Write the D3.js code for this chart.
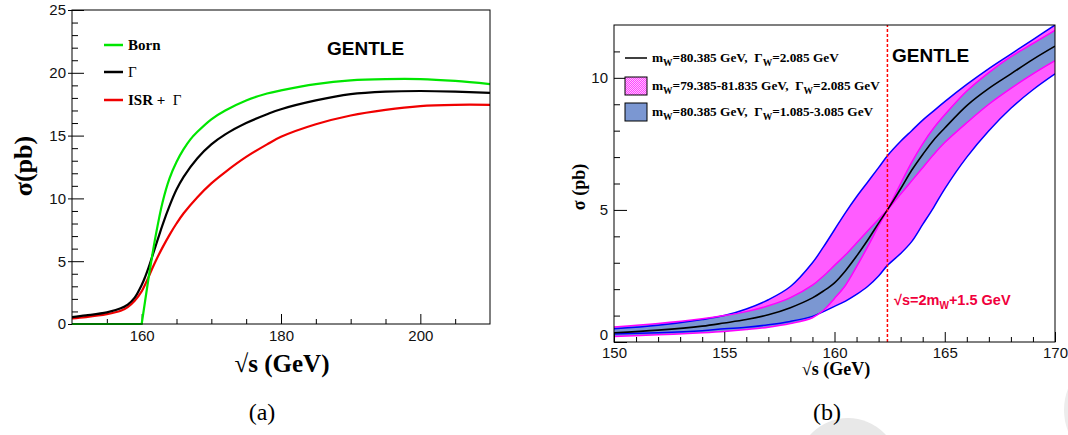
<!DOCTYPE html>
<html><head><meta charset="utf-8">
<script src="https://cdn.jsdelivr.net/npm/d3@7"></script>
<style>body{margin:0;background:#fff}svg{display:block}text{white-space:pre}</style>
</head><body>
<svg id="c" width="1068" height="435"></svg>
<script>
// ---------- Panel (a) data ----------
const bornX = [150,160,160.5,161,161.5,162,163,164,165,166,167,168,170,172,175,178,180,185,190,195,200,205,210];
const bornY = [0,0,1.85,3.7,5.4,7.0,9.7,11.6,12.9,13.9,14.7,15.3,16.3,17.0,17.8,18.35,18.6,19.1,19.4,19.5,19.5,19.35,19.1];
const gamX  = [150,152,155,157,158,159,160,160.5,161,161.5,162,163,164,165,166,168,170,172,175,178,180,185,190,195,200,205,210];
const gamY  = [0.55,0.68,0.92,1.25,1.55,2.1,3.1,3.75,4.5,5.35,6.2,7.9,9.4,10.7,11.7,13.2,14.3,15.1,16.0,16.7,17.1,17.8,18.3,18.5,18.55,18.5,18.4];
const isrY  = [0.45,0.55,0.78,1.05,1.35,1.85,2.6,3.15,3.75,4.4,5.0,6.1,7.1,8.0,8.8,10.1,11.2,12.1,13.3,14.3,14.9,15.9,16.6,17.05,17.35,17.45,17.45];
const legendA = ["Born", "Γ", "ISR +  Γ"];
const xTicksA = [160,180,200];
const xMinorA = [155,165,170,175,185,190,195,205];
const yTicksA = [0,5,10,15,20,25];

// ---------- Panel (b) data ----------
const sX      = [150,152,154,155,156,157,158,159,159.5,160,160.5,161,161.5,162,162.4,163,163.5,164,164.5,165,166,167,168,169,170];
const central = [0.35,0.45,0.6,0.72,0.85,1.03,1.3,1.67,1.93,2.24,2.7,3.25,3.85,4.5,5.0,5.8,6.5,7.1,7.65,8.1,8.95,9.6,10.15,10.7,11.2];
const gamHigh = [0.57,0.7,0.88,1.0,1.15,1.37,1.68,2.15,2.5,2.9,3.3,3.75,4.2,4.65,5.0,5.6,6.1,6.6,7.1,7.55,8.3,9.0,9.6,10.15,10.65];
const gamLow  = [0.21,0.27,0.35,0.4,0.47,0.56,0.7,0.92,1.2,1.65,2.15,2.85,3.6,4.4,5.0,6.0,6.8,7.5,8.1,8.6,9.5,10.2,10.8,11.3,11.8];
const massLow = [0.5,0.63,0.85,1.0,1.25,1.6,2.1,3.0,3.6,4.25,4.9,5.5,6.05,6.6,7.05,7.6,8.0,8.4,8.75,9.1,9.75,10.35,10.9,11.45,12.0];
const massHigh= [0.3,0.35,0.43,0.5,0.56,0.65,0.78,0.97,1.15,1.35,1.55,1.8,2.1,2.5,2.9,3.35,3.8,4.45,5.1,5.8,7.0,8.0,8.85,9.55,10.15];
const threshold = 162.4;
const xTicksB = [150,155,160,165,170];
const xMinorB = d3.range(151,170).filter(v => v % 5 !== 0);
const yTicksB = [0,5,10];
const yMinorB = [1,2,3,4,6,7,8,9,11];

const SANS = "'Liberation Sans', Arial, sans-serif";
const SERIF = "'Liberation Serif', 'Times New Roman', serif";
const svg = d3.select("#c");
const smooth = d3.curveCatmullRom.alpha(0.5);

// watermark shapes
svg.append("circle").attr("cx",848).attr("cy",469).attr("r",51).attr("fill","#e8e8e8");
svg.append("circle").attr("cx",1122).attr("cy",410).attr("r",58).attr("fill","#ececec");

// pattern for legend
const defs = svg.append("defs");
const pat = defs.append("pattern").attr("id","hatch").attr("width",2).attr("height",2).attr("patternUnits","userSpaceOnUse");
pat.append("rect").attr("width",2).attr("height",2).attr("fill","#ff40ff");
pat.append("rect").attr("width",1).attr("height",1).attr("fill","#ffc0ff");
pat.append("rect").attr("x",1).attr("y",1).attr("width",1).attr("height",1).attr("fill","#ffc0ff");

function styleAxis(g, font, size){
  g.select(".domain").remove();
  g.selectAll("text").attr("font-family",font).attr("font-size",size).attr("fill","#111");
  g.selectAll("line").attr("stroke","#000");
}

// ================= Panel (a) =================
{
  const x = d3.scaleLinear().domain([150,210]).range([72,490]);
  const y = d3.scaleLinear().domain([0,25]).range([324,10]);
  const g = svg.append("g");
  const ya = g.append("g").attr("transform","translate(72,0)")
    .call(d3.axisLeft(y).tickValues(yTicksA).tickSizeInner(-12).tickSizeOuter(0).tickPadding(6));
  ya.selectAll(".tick line").attr("x1",-4);
  styleAxis(ya, SANS, 15);
  const yam = g.append("g").attr("transform","translate(72,0)")
    .call(d3.axisLeft(y).tickValues(d3.range(0,25).filter(v=>v%5!==0)).tickSizeInner(-6).tickSizeOuter(0).tickFormat(""));
  styleAxis(yam, SANS, 15);
  const xa = g.append("g").attr("transform","translate(0,324)")
    .call(d3.axisBottom(x).tickValues(xTicksA).tickSizeInner(-10).tickSizeOuter(0).tickPadding(6));
  styleAxis(xa, SANS, 15);
  const xam = g.append("g").attr("transform","translate(0,324)")
    .call(d3.axisBottom(x).tickValues(xMinorA).tickSizeInner(-5).tickSizeOuter(0).tickFormat(""));
  styleAxis(xam, SANS, 15);

  const line = d3.line().curve(smooth);
  const clip = defs.append("clipPath").attr("id","clipA");
  clip.append("rect").attr("x",72).attr("y",10).attr("width",418).attr("height",315);
  const pg = g.append("g").attr("clip-path","url(#clipA)");
  pg.append("path").attr("d", line(gamX.map((v,i)=>[x(v),y(isrY[i])]))).attr("fill","none").attr("stroke","#f00000").attr("stroke-width",2.2);
  pg.append("path").attr("d", line(gamX.map((v,i)=>[x(v),y(gamY[i])]))).attr("fill","none").attr("stroke","#000").attr("stroke-width",2.2);
  const k = bornY.lastIndexOf(0);
  const bornPts = bornX.map((v,i)=>[x(v),y(bornY[i])]);
  pg.append("path").attr("d", d3.line()(bornPts.slice(0,k+1)) + line(bornPts.slice(k)).replace(/^M/,"L"))
    .attr("fill","none").attr("stroke","#00e600").attr("stroke-width",2.2);

  g.append("rect").attr("x",72).attr("y",10).attr("width",418).attr("height",314).attr("fill","none").attr("stroke","#000").attr("stroke-width",1);

  const cols = ["#00e600","#000","#f00000"];
  const ly = [45,72,100];
  legendA.forEach((t,i)=>{
    g.append("line").attr("x1",104).attr("x2",123).attr("y1",ly[i]).attr("y2",ly[i]).attr("stroke",cols[i]).attr("stroke-width",2.5);
    const tx = g.append("text").attr("x",128).attr("y",ly[i]+5).attr("font-family",SERIF).attr("font-size",15).attr("fill","#000");
    if(i===0) tx.attr("font-weight","bold").text(t);
    else if(i===1) tx.text(t);
    else { tx.append("tspan").attr("font-weight","bold").text("ISR +  "); tx.append("tspan").text("Γ"); }
  });
  g.append("text").attr("x",327).attr("y",55).attr("font-family",SANS).attr("font-weight","bold").attr("font-size",19).text("GENTLE");
  g.append("text").attr("transform","translate(32,166) rotate(-90)").attr("text-anchor","middle")
    .attr("font-family",SERIF).attr("font-weight","bold").attr("font-size",26).text("σ(pb)");
  g.append("text").attr("x",282).attr("y",372).attr("text-anchor","middle")
    .attr("font-family",SERIF).attr("font-weight","bold").attr("font-size",25).text("√s (GeV)");
  g.append("text").attr("x",262).attr("y",420).attr("text-anchor","middle")
    .attr("font-family",SERIF).attr("font-size",24).text("(a)");
}

// ================= Panel (b) =================
{
  const x = d3.scaleLinear().domain([150,170]).range([614,1055]);
  const y = d3.scaleLinear().domain([0,12]).range([342,25]);
  const g = svg.append("g");
  const clip = defs.append("clipPath").attr("id","clipB");
  clip.append("rect").attr("x",614).attr("y",25).attr("width",441).attr("height",317);
  const pg = g.append("g").attr("clip-path","url(#clipB)");

  const area = (lo,hi) => d3.area().curve(smooth)
      .x((d,i)=>x(sX[i])).y0((d,i)=>y(lo[i])).y1((d,i)=>y(hi[i]))(sX);
  const line = arr => d3.line().curve(smooth).x((d,i)=>x(sX[i])).y((d,i)=>y(arr[i]))(sX);

  pg.append("path").attr("d", area(massHigh, massLow)).attr("fill","#ff5cff");
  pg.append("path").attr("d", area(gamLow, gamHigh)).attr("fill","#7b97d2");
  [massLow, massHigh].forEach(a=> pg.append("path").attr("d", line(a)).attr("fill","none").attr("stroke","#0000ff").attr("stroke-width",1.5));
  [gamLow, gamHigh].forEach(a=> pg.append("path").attr("d", line(a)).attr("fill","none").attr("stroke","#ff00ff").attr("stroke-width",1.5));
  pg.append("path").attr("d", line(central)).attr("fill","none").attr("stroke","#000").attr("stroke-width",1.6);

  g.append("line").attr("x1",x(threshold)).attr("x2",x(threshold)).attr("y1",342).attr("y2",25)
    .attr("stroke","#ff0000").attr("stroke-width",1.5).attr("stroke-dasharray","3,2");

  const ya = g.append("g").attr("transform","translate(614,0)")
    .call(d3.axisLeft(y).tickValues(yTicksB).tickSizeInner(-13).tickSizeOuter(0).tickPadding(6));
  styleAxis(ya, SANS, 15);
  ya.selectAll(".tick text").filter(d=>d===0).attr("dy","-0.15em");
  const yam = g.append("g").attr("transform","translate(614,0)")
    .call(d3.axisLeft(y).tickValues(yMinorB).tickSizeInner(-6).tickSizeOuter(0).tickFormat(""));
  styleAxis(yam, SANS, 15);
  const xa = g.append("g").attr("transform","translate(0,342)")
    .call(d3.axisBottom(x).tickValues(xTicksB).tickSizeInner(-10).tickSizeOuter(0).tickPadding(5));
  styleAxis(xa, SANS, 15);
  const xam = g.append("g").attr("transform","translate(0,342)")
    .call(d3.axisBottom(x).tickValues(xMinorB).tickSizeInner(-5).tickSizeOuter(0).tickFormat(""));
  styleAxis(xam, SANS, 15);

  g.append("rect").attr("x",614).attr("y",25).attr("width",441).attr("height",317).attr("fill","none").attr("stroke","#000").attr("stroke-width",1);

  const legRows = [
    {y:58, kind:"line", segs:[["m"],["W",1],["=80.385 GeV,  Γ"],["W",1],["=2.085 GeV"]]},
    {y:86, kind:"hatch", segs:[["m"],["W",1],["=79.385-81.835 GeV,  Γ"],["W",1],["=2.085 GeV"]]},
    {y:112, kind:"blue", segs:[["m"],["W",1],["=80.385 GeV,  Γ"],["W",1],["=1.085-3.085 GeV"]]}
  ];
  legRows.forEach(r=>{
    if(r.kind==="line") g.append("line").attr("x1",625).attr("x2",647).attr("y1",r.y).attr("y2",r.y).attr("stroke","#000").attr("stroke-width",1.5);
    else g.append("rect").attr("x",625).attr("y",r.y-9).attr("width",22).attr("height",18)
      .attr("fill", r.kind==="hatch" ? "url(#hatch)" : "#7b97d2").attr("stroke","#000").attr("stroke-width",1);
    const t = g.append("text").attr("x",652).attr("y",r.y+4).attr("font-family",SERIF).attr("font-weight","bold").attr("font-size",13.3).attr("fill","#000");
    let sub=false;
    r.segs.forEach(s=>{
      const ts = t.append("tspan").text(s[0]);
      if(s[1] && !sub){ ts.attr("dy",4).attr("font-size",9.5); sub=true; }
      else if(!s[1] && sub){ ts.attr("dy",-4); sub=false; }
    });
  });

  g.append("text").attr("x",892).attr("y",62).attr("font-family",SANS).attr("font-weight","bold").attr("font-size",19).text("GENTLE");
  const rl = g.append("text").attr("x",894).attr("y",305).attr("font-family",SANS).attr("font-weight","bold").attr("font-size",14.5).attr("fill","#f0003c");
  rl.append("tspan").text("√s=2m");
  rl.append("tspan").attr("dy",4).attr("font-size",10).text("W");
  rl.append("tspan").attr("dy",-4).text("+1.5 GeV");

  g.append("text").attr("transform","translate(585,187) rotate(-90)").attr("text-anchor","middle")
    .attr("font-family",SERIF).attr("font-weight","bold").attr("font-size",18).text("σ (pb)");
  g.append("text").attr("x",836).attr("y",375).attr("text-anchor","middle")
    .attr("font-family",SERIF).attr("font-weight","bold").attr("font-size",18).text("√s (GeV)");
  g.append("text").attr("x",827).attr("y",420).attr("text-anchor","middle")
    .attr("font-family",SERIF).attr("font-size",24).text("(b)");
}
</script>
</body></html>
